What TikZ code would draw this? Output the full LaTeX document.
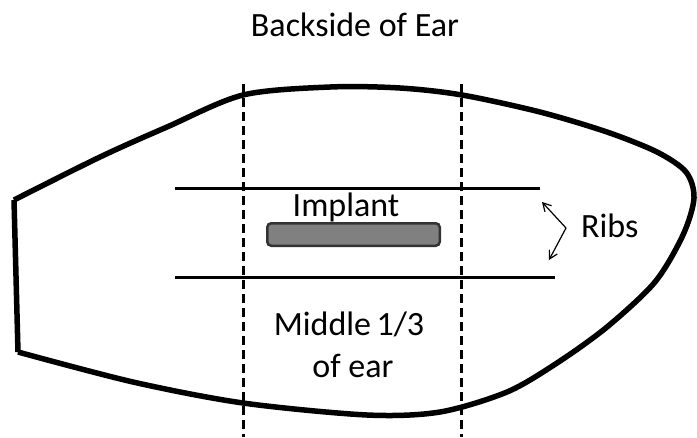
\documentclass[tikz,border=0pt]{standalone}
\usepackage{fontspec}
\setmainfont{Carlito}
\usetikzlibrary{arrows.meta}
\tikzset{
  outline/.style={line width=5.5pt, line join=round},
  divider/.style={line width=3pt, dash pattern=on 9pt off 5pt},
  ribline/.style={line width=3pt},
  ribarrow/.style={line width=1.2pt, -{Straight Barb[length=8pt,width=9pt,line width=1.2pt]}},
  implant/.style={draw=black!80, fill=black!50, line width=2.5pt, rounded corners=4pt,
                  minimum width=172.5pt, minimum height=22.5pt, inner sep=0pt},
  lbl/.style={font=\fontsize{34}{41}\selectfont, inner sep=0pt, anchor=base},
}
\begin{document}
\begin{tikzpicture}[x=1pt,y=-1pt]
\useasboundingbox (0,0) rectangle (697,437);
% ear outline
\draw[outline] (14,200) -- (18,352)
  plot[smooth, tension=0.5] coordinates {(18,352) (133,382) (243,403) (367,415) (440,412) (507,392) (557,363) (607,327) (655,282) (683,235) (694,198) (686,172) (657,152) (607,132) (540,112) (462,95) (400,88) (330,87) (243,95) (167,127) (100,157) (14,200)};
% middle third dividers
\coordinate (d1t) at (243,84); \coordinate (d1b) at (243,437);
\coordinate (d2t) at (461,84); \coordinate (d2b) at (461,437);
\draw[divider] (d1t) -- (d1b);
\draw[divider] (d2t) -- (d2b);
% ribs
\coordinate (r1a) at (175,188); \coordinate (r1b) at (540,188);
\coordinate (r2a) at (175,277); \coordinate (r2b) at (555,277);
\draw[ribline] (r1a) -- (r1b);
\draw[ribline] (r2a) -- (r2b);
% implant
\node[implant] (imp) at (353.5,234.5) {};
% labels
\node[lbl] (title) at (355,36) {Backside of Ear};
\node[lbl] (implab) at (346,216) {Implant};
\node[lbl, anchor=base west] (ribs) at (581,237) {Ribs};
\node[lbl] (mid1) at (349,335) {Middle\hspace{0.16em}1/3};
\node[lbl] (mid2) at (353,377) {of ear};
% rib arrows
\coordinate (v) at (566,228);
\coordinate (tu) at (542,202);
\coordinate (tl) at (549,260);
\draw[ribarrow] (v) -- (tu);
\draw[ribarrow] (v) -- (tl);
\end{tikzpicture}
\end{document}
